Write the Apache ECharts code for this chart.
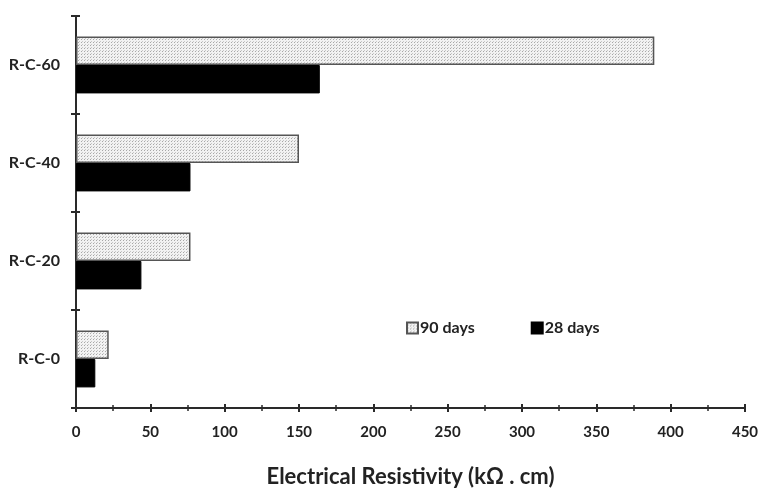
<!DOCTYPE html>
<html><head><meta charset="utf-8">
<script src="https://cdn.jsdelivr.net/npm/echarts@6/dist/echarts.min.js"></script>
<style>html,body{margin:0;padding:0;background:#fff}#c{width:760px;height:489px}</style>
</head><body><div id="c"></div>
<script>
const categories = ['R-C-0', 'R-C-20', 'R-C-40', 'R-C-60'];
const days90 = [22, 77, 150, 389];
const days28 = [13, 44, 77, 164];
const xTicks = [0, 50, 100, 150, 200, 250, 300, 350, 400, 450];

function dotPattern() {
  const c = document.createElement('canvas');
  c.width = 3; c.height = 3;
  const g = c.getContext('2d');
  g.fillStyle = '#f2f2f2'; g.fillRect(0, 0, 3, 3);
  g.fillStyle = '#a8a8a8'; g.fillRect(0, 0, 1, 1);
  g.fillStyle = '#c8c8c8'; g.fillRect(1, 2, 1, 1);
  return c;
}
const font = 'Lato, "Open Sans", sans-serif';
const chart = echarts.init(document.getElementById('c'), null, {renderer: 'canvas'});
const axLine = {show: true, lineStyle: {color: '#2a2a2a', width: 2}};
chart.setOption({
  animation: false,
  grid: {left: 76, right: 15, top: 16, bottom: 81, containLabel: false, outerBoundsMode: 'none'},
  legend: {
    data: ['90 days', '28 days'],
    left: 401, top: 315, itemWidth: 11, itemHeight: 11, itemGap: 56,
    icon: 'rect',
    textStyle: {fontFamily: font, fontWeight: 'bold', fontSize: 16, color: '#222', padding: [0, 0, 0, -3]}
  },
  xAxis: [{
    type: 'value', min: 0, max: 450, interval: 50,
    name: 'Electrical Resistivity (kΩ . cm)', nameLocation: 'middle', nameGap: 58,
    nameTextStyle: {fontFamily: font, fontWeight: 'bold', fontSize: 22, color: '#222'},
    axisLine: axLine,
    axisTick: {show: true, length: 4, lineStyle: {color: '#2a2a2a', width: 2}},
    minorTick: {show: true, splitNumber: 2, length: 3, lineStyle: {color: '#2a2a2a', width: 1.5}},
    axisLabel: {fontFamily: font, fontWeight: 'bold', fontSize: 15, color: '#222', margin: 17,
      formatter: v => xTicks.includes(v) ? String(v) : ''},
    splitLine: {show: false}
  }, {
    type: 'value', min: 0, max: 450, interval: 50, position: 'bottom',
    axisLine: {show: false},
    axisTick: {show: true, inside: true, length: 4, lineStyle: {color: '#2a2a2a', width: 2}},
    minorTick: {show: true, splitNumber: 2, length: 3, lineStyle: {color: '#2a2a2a', width: 1.5}},
    axisLabel: {show: false}, splitLine: {show: false}
  }],
  yAxis: [{
    type: 'category', data: categories,
    axisLine: axLine,
    axisTick: {show: true, length: 5, lineStyle: {color: '#2a2a2a', width: 2}},
    axisLabel: {fontFamily: font, fontWeight: 'bold', fontSize: 16, color: '#222', margin: 16}
  }, {
    type: 'category', data: categories, position: 'left',
    axisLine: {show: false},
    axisTick: {show: true, inside: true, length: 4, lineStyle: {color: '#2a2a2a', width: 2}},
    axisLabel: {show: false}
  }],
  series: [{
    name: '90 days', type: 'bar', data: days90, xAxisIndex: 0, yAxisIndex: 0,
    barGap: '0%', barCategoryGap: '42%',
    itemStyle: {color: {image: dotPattern(), repeat: 'repeat'}, borderColor: '#555', borderWidth: 1.5}
  }, {
    name: '28 days', type: 'bar', data: days28, xAxisIndex: 0, yAxisIndex: 0,
    itemStyle: {color: '#000', borderColor: '#000', borderWidth: 1}
  }]
});
</script></body></html>
